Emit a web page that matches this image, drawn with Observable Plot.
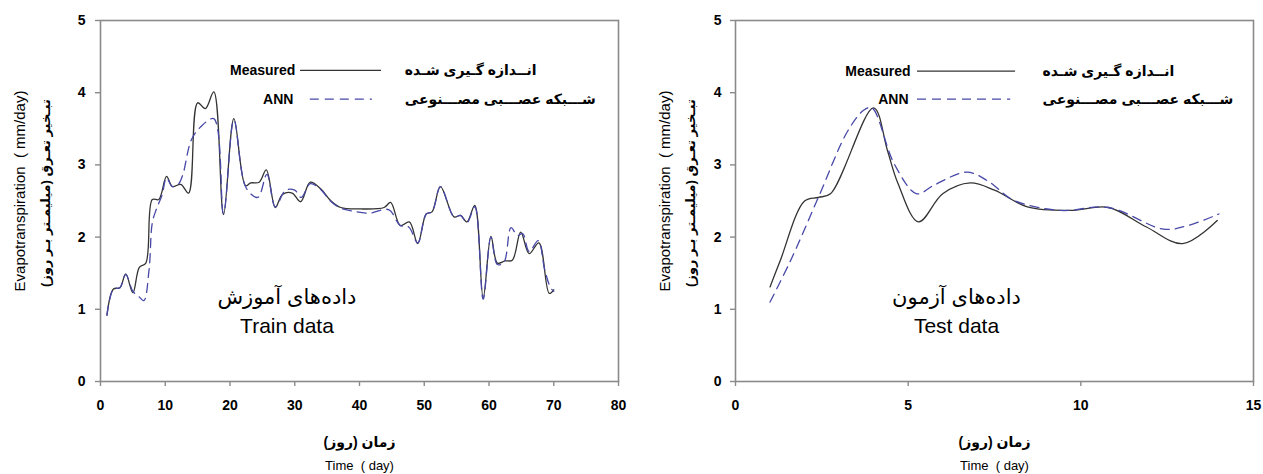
<!DOCTYPE html>
<html><head><meta charset="utf-8">
<script src="https://cdn.jsdelivr.net/npm/d3@7"></script>
<script src="https://cdn.jsdelivr.net/npm/@observablehq/plot@0.6"></script>
<style>
body{margin:0;background:#fff;}
#wrap{display:flex;width:1263px;height:474px;overflow:hidden;}
#wrap svg{display:block;}
</style></head><body><div id="wrap"></div>
<script>
// ---- data ----
const trainMeasuredDay = [1,2,3,3.9,5,6,7,8,9,10.2,11.1,12.4,13.6,15,16.2,17.5,19,20.6,22.4,23.2,24.5,25.6,27,28.1,29.6,30.9,32.4,34,35.5,37.1,40.1,43.8,44.8,46.3,47.7,49,50.3,51.2,52.5,54.6,55.6,56.6,57.8,59.1,60.3,61.3,62.5,63.6,64.9,66.2,67.7,69.3,70];
const trainMeasuredET  = [0.92,1.28,1.30,1.49,1.23,1.58,1.64,2.52,2.52,2.84,2.70,2.73,2.61,3.86,3.78,4.01,2.31,3.64,2.71,2.75,2.76,2.93,2.41,2.59,2.61,2.49,2.76,2.67,2.51,2.41,2.39,2.41,2.48,2.16,2.21,1.91,2.32,2.35,2.70,2.28,2.30,2.21,2.44,1.16,2.01,1.64,1.67,1.68,2.07,1.77,1.92,1.22,1.27];
const trainAnnDay = [1,2,3,3.9,5,6,6.7,7.5,8,8.6,9.5,10.2,11.1,12,12.7,14,15.4,17.5,19,20.6,22.5,24.3,25.7,27,28.6,30,31,32.4,34,35.5,37.1,39,41.5,44.5,46.3,47.6,49,50.3,51.2,52.5,54.6,55.6,56.6,57.8,59.1,60.3,61.3,62.3,63.4,64.4,65.2,66.2,67.6,68.6,69.5,70];
const trainAnnET  = [0.92,1.28,1.30,1.48,1.25,1.17,1.12,1.55,2.20,2.38,2.58,2.82,2.70,2.73,2.86,3.34,3.52,3.64,2.33,3.62,2.68,2.55,2.87,2.42,2.65,2.65,2.55,2.74,2.66,2.50,2.40,2.36,2.33,2.38,2.16,2.14,1.92,2.32,2.35,2.70,2.28,2.30,2.20,2.42,1.14,2.00,1.62,1.65,2.13,2.02,2.05,1.80,1.95,1.55,1.30,1.25];

const testMeasuredDay = [1,1.3,2,2.4,2.75,4,4.4,4.7,5.3,6,6.8,7.5,8.45,9.7,10.8,11.9,12.95,13.95];
const testMeasuredET  = [1.31,1.68,2.50,2.55,2.60,3.79,3.20,2.75,2.21,2.60,2.75,2.65,2.42,2.37,2.41,2.14,1.91,2.23];
const testAnnDay = [1,1.6,2.4,3.25,3.72,3.95,4.6,5.25,5.75,6.7,7.3,8.06,9.4,10.8,12.4,13.1,14];
const testAnnET  = [1.10,1.68,2.55,3.47,3.76,3.79,3.01,2.60,2.72,2.90,2.78,2.51,2.37,2.41,2.11,2.16,2.32];

const yTicks = [0,1,2,3,4,5];
const trainXTicks = [0,10,20,30,40,50,60,70,80];
const testXTicks = [0,5,10,15];
const seriesNames = ["Measured","ANN"];
const seriesNamesFa = ["انــدازه گـیری شـده","شـــبکه عصـــبی مصـــنوعی"];
const yLabelEn = "Evapotranspiration\u00a0\u00a0( mm/day)";
const yLabelFa = "تبـخیر تعـرق (میلیمـتر بـر روز)";
const xLabelFa = "زمان (روز)";
const xLabelEn = "Time\u00a0\u00a0( day)";
const trainTitle = ["داده‌های آموزش","Train data"];
const testTitle = ["داده‌های آزمون","Test data"];

const measuredColor = "#333";
const annColor = "#4848a8";
const frameColor = "#8a8a8a";
const FONT = "'Liberation Sans', Arial, 'DejaVu Sans', sans-serif";

function zip(xs, ys){ return xs.map((x,i)=>({day:x, et:ys[i]})); }

function chart(o){
  const measured = zip(o.mDay, o.mET);
  const ann = zip(o.aDay, o.aET);
  const lg = o.legend;
  return Plot.plot({
    width: o.width, height: 474,
    marginLeft: o.marginLeft, marginRight: o.marginRight, marginTop: 20, marginBottom: 93,
    style: {fontFamily: FONT, fontSize: "14px", color: "#000", background: "#fff"},
    x: {domain: o.xDomain},
    y: {domain: [0,5]},
    marks: [
      Plot.frame({stroke: frameColor, strokeWidth: 1.6}),
      Plot.axisX({ticks: o.xTicks, tickSize: 5, tickPadding: 14, stroke: frameColor, strokeWidth: 1.4, fontWeight: "bold", fontSize: 14, label: null, tickFormat: d=>String(d)}),
      Plot.axisY({ticks: yTicks, tickSize: 5, tickPadding: o.yPad, stroke: frameColor, strokeWidth: 1.4, fontWeight: "bold", fontSize: 14, label: null, tickFormat: d=>String(d)}),
      Plot.line(measured, {x: "day", y: "et", curve: "catmull-rom", stroke: measuredColor, strokeWidth: 1.3}),
      Plot.line(ann, {x: "day", y: "et", curve: "catmull-rom", stroke: annColor, strokeWidth: 1.3, strokeDasharray: "9,6"}),
      // legend
      Plot.text([seriesNames[0]], {x: lg.textX[0], y: lg.y[0], text: d=>d, textAnchor: "end", fontWeight: "bold", fontSize: 14}),
      Plot.text([seriesNames[1]], {x: lg.textX[1], y: lg.y[1], text: d=>d, textAnchor: "end", fontWeight: "bold", fontSize: 14}),
      Plot.ruleY([lg.y[0]], {x1: lg.line0[0], x2: lg.line0[1], stroke: measuredColor, strokeWidth: 1.3}),
      Plot.ruleY([lg.y[1]], {x1: lg.line1[0], x2: lg.line1[1], stroke: annColor, strokeWidth: 1.3, strokeDasharray: "9,6"}),
      Plot.text(seriesNamesFa.map((t,i)=>({t, y: lg.y[i]})), {x: lg.faX, y: "y", text: "t", textAnchor: "start", fontWeight: "bold", fontSize: 14}),
      // panel annotation
      Plot.text([o.title[0]], {x: o.titleX, y: 1.17, text: d=>d, fontSize: 21}),
      Plot.text([o.title[1]], {x: o.titleX, y: 0.77, text: d=>d, fontSize: 21}),
      // axis titles
      Plot.text([xLabelFa], {frameAnchor: "bottom", dy: 61, lineAnchor: "middle", text: d=>d, fontWeight: "bold", fontSize: 14}),
      Plot.text([xLabelEn], {frameAnchor: "bottom", dy: 84, lineAnchor: "middle", text: d=>d, fontSize: 13}),
      Plot.text([yLabelEn], {frameAnchor: "left", dx: o.yLabDx[0], dy: -10, rotate: -90, textAnchor: "middle", lineAnchor: "middle", text: d=>d, fontSize: 15}),
      Plot.text([yLabelFa], {frameAnchor: "left", dx: o.yLabDx[1], dy: -8, rotate: -90, textAnchor: "middle", lineAnchor: "middle", text: d=>d, fontWeight: "bold", fontSize: 13})
    ]
  });
}

const wrap = document.getElementById("wrap");
wrap.append(chart({
  width: 631, marginLeft: 100, marginRight: 13, xDomain: [0,80], xTicks: trainXTicks, yPad: 10,
  mDay: trainMeasuredDay, mET: trainMeasuredET, aDay: trainAnnDay, aET: trainAnnET,
  legend: {textX: [30.1, 29.8], y: [4.31, 3.91], line0: [30.9, 43.4], line1: [32.4, 42.0], faX: 47.0},
  title: trainTitle, titleX: 28.8, yLabDx: [-80, -55]
}));
wrap.append(chart({
  width: 632, marginLeft: 104, marginRight: 10, xDomain: [0,15], xTicks: testXTicks, yPad: 9,
  mDay: testMeasuredDay, mET: testMeasuredET, aDay: testAnnDay, aET: testAnnET,
  legend: {textX: [5.07, 5.01], y: [4.30, 3.91], line0: [5.27, 8.11], line1: [5.27, 7.97], faX: 8.89},
  title: testTitle, titleX: 6.4, yLabDx: [-70, -45]
}));
</script>
</body></html>
